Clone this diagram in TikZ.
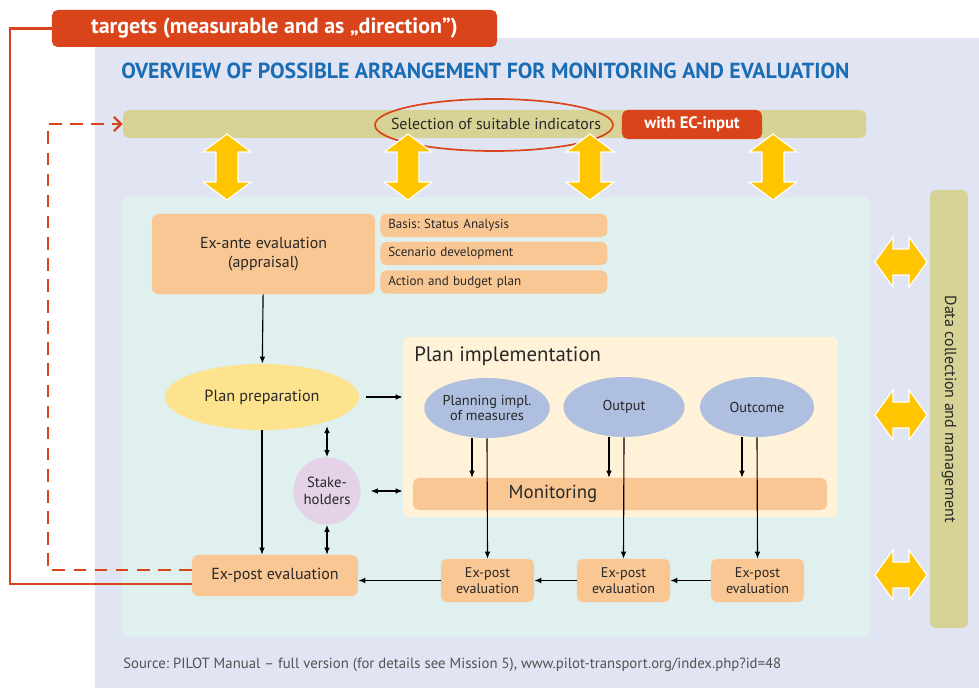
\documentclass[tikz,border=0pt]{standalone}
\usepackage{fontspec}
\setmainfont{PT Sans}
\frenchspacing
\usetikzlibrary{shapes.geometric,arrows.meta,positioning}

\definecolor{lavender}{RGB}{225,228,242}
\definecolor{mint}{RGB}{223,240,239}
\definecolor{khaki}{RGB}{215,210,149}
\definecolor{brick}{RGB}{217,68,26}
\definecolor{apricot}{RGB}{249,199,147}
\definecolor{cream}{RGB}{255,242,216}
\definecolor{bluegray}{RGB}{174,191,224}
\definecolor{butter}{RGB}{253,227,142}
\definecolor{lilac}{RGB}{227,210,232}
\definecolor{gold}{RGB}{255,197,0}
\definecolor{titleblue}{RGB}{26,109,180}
\definecolor{ink}{RGB}{40,40,40}

\begin{document}
\begin{tikzpicture}[x=0.025cm, y=-0.025cm,
  panel/.style={rounded corners=4pt, inner sep=0pt},
  box/.style={fill=apricot, rounded corners=4pt, text=ink, align=center, inner sep=0pt},
  redbox/.style={fill=brick, rounded corners=4pt, text=white, font=\bfseries, inner sep=0pt},
  blob/.style={ellipse, fill=bluegray, text=ink, align=center, inner sep=0pt, font=\fontsize{10.2}{11}\selectfont},
  flow/.style={-{Latex[length=5pt,width=4pt]}, line width=0.8pt},
  both/.style={{Latex[length=5pt,width=4pt]}-{Latex[length=5pt,width=4pt]}, line width=0.8pt},
  redline/.style={brick, line width=1.6pt}]
\useasboundingbox (0,0) rectangle (979,688);

  % Backgrounds
  \fill[white] (0,0) rectangle (979,688);
  \fill[lavender] (95,38) rectangle (979,688);
  \node[redbox, minimum width=11.125cm, minimum height=0.925cm, font=\bfseries\fontsize{15.6}{17}\selectfont] (targets) at (274.5,28.5) {targets (measurable and as „direction”)};
  \node[anchor=west, text=titleblue, font=\bfseries\fontsize{15.5}{17}\selectfont, inner sep=0pt] (title) at (121,71) {OVERVIEW OF POSSIBLE ARRANGEMENT FOR MONITORING AND EVALUATION};

  % Indicator bar
  \node[panel, fill=khaki, minimum width=18.575cm, minimum height=0.7cm] (bar) at (494.5,124) {};
  \node[text=ink, font=\fontsize{11.3}{13}\selectfont] (seltext) at (496,124) {Selection of suitable indicators};
  \node[ellipse, draw=brick, line width=1.2pt, minimum width=5.95cm, minimum height=1.3cm] (selring) at (494,125) {};
  \node[redbox, minimum width=3.5cm, minimum height=0.725cm, font=\bfseries\fontsize{11.8}{13}\selectfont] (ecinput) at (692,124.5) {with EC-input};

  % Main panel and data bar
  \node[panel, fill=mint, minimum width=18.7cm, minimum height=11cm] (main) at (496,417) {};
  \node[panel, fill=khaki, rotate=-90, minimum width=10.95cm, minimum height=0.95cm, text=ink, font=\fontsize{11.4}{13}\selectfont] (datacol) at (949,409) {Data collection and management};

  % Yellow double arrows
  \foreach \x in {227,408,590,773}
    \fill[gold, draw=white, line width=0.8pt] (\x,134) -- (\x+24,152) -- (\x+11,152) -- (\x+11,182) -- (\x+24,182) -- (\x,200)
      -- (\x-24,182) -- (\x-11,182) -- (\x-11,152) -- (\x-24,152) -- cycle;
  \foreach \y in {262,415,575}
    \fill[gold, draw=white, line width=0.8pt] (875,\y) -- (893,\y-25) -- (893,\y-13) -- (909,\y-13) -- (909,\y-25) -- (927,\y)
      -- (909,\y+25) -- (909,\y+13) -- (893,\y+13) -- (893,\y+25) -- cycle;

  % Ex-ante evaluation
  \node[box, minimum width=5.575cm, minimum height=2cm, font=\fontsize{11.3}{14}\selectfont] (exante) at (263.5,254) {Ex-ante evaluation\\(appraisal)};
  \node[box, anchor=west, align=left, text width=5.275cm, inner xsep=0.2cm, minimum height=0.575cm, font=\fontsize{9.3}{11}\selectfont] (basis) at (380,225.5) {Basis: Status Analysis};
  \node[box, anchor=west, align=left, text width=5.275cm, inner xsep=0.2cm, minimum height=0.575cm, font=\fontsize{9.3}{11}\selectfont] (scen) at (380,253.5) {Scenario development};
  \node[box, anchor=west, align=left, text width=5.275cm, inner xsep=0.2cm, minimum height=0.575cm, font=\fontsize{9.3}{11}\selectfont] (budget) at (380,282) {Action and budget plan};

  % Plan implementation
  \node[panel, fill=cream, minimum width=10.875cm, minimum height=4.5cm] (impl) at (620.5,427) {};
  \node[anchor=west, text=ink, inner sep=0pt, font=\fontsize{14.8}{16}\selectfont] (impltitle) at (414,356) {Plan implementation};
  \node[blob, minimum width=3cm, minimum height=1.5cm] (planimp) at (487,408) {Planning impl.\\of measures};
  \node[blob, minimum width=3.025cm, minimum height=1.5cm] (output) at (624,407) {Output};
  \node[blob, minimum width=2.85cm, minimum height=1.5cm] (outcome) at (757,407) {Outcome};
  \node[box, minimum width=10.35cm, minimum height=0.8cm] (mon) at (620,494) {};
  \node[text=ink, font=\fontsize{13.4}{15}\selectfont] (montext) at (553,494) {Monitoring};

  % Preparation and stakeholders
  \node[ellipse, fill=butter, text=ink, minimum width=4.85cm, minimum height=1.65cm, inner sep=0pt, font=\fontsize{11.5}{13}\selectfont] (prep) at (262,397) {Plan preparation};
  \node[circle, fill=lilac, text=ink, align=center, minimum size=1.68cm, inner sep=0pt, font=\fontsize{10.5}{12}\selectfont] (stake) at (327,491) {Stake-\\holders};

  % Ex-post evaluations
  \node[box, minimum width=4.15cm, minimum height=1.025cm, font=\fontsize{11.4}{13}\selectfont] (expost) at (275,575.5) {Ex-post evaluation};
  \foreach \n/\x in {ep1/487.5, ep2/623.5, ep3/757.5}
    \node[box, minimum width=2.325cm, minimum height=1.075cm, font=\fontsize{10}{11.5}\selectfont] (\n) at (\x,580.5) {Ex-post\\evaluation};

  % Connectors
  \draw[flow] (exante) -- (prep);
  \draw[flow, shorten <=5pt] (prep.east) -- (prep.east -| impl.west);
  \draw[both, shorten >=-3pt] (stake.north) -- (stake.north |- prep.south);
  \draw[both, shorten <=7pt] (stake.east) -- (stake.east -| impl.west);
  \draw[both] (stake.south) -- (stake.south |- expost.north);
  \draw[flow] (prep.south) -- (prep.south |- expost.north);
  \foreach \e/\p in {planimp/ep1, output/ep2, outcome/ep3} {
    \draw[flow] ([xshift=-0.375cm]\e.south) -- ([xshift=-0.375cm]\e.south |- mon.north);
    \draw[flow] (\e.south) -- (\p.north);
  }
  \draw[flow] (ep3) -- (ep2);
  \draw[flow] (ep2) -- (ep1);
  \draw[flow] (ep1.west) -- (ep1.west -| expost.east);

  % Red feedback lines
  \coordinate (solidx) at (10,300);
  \coordinate (dashx) at (48,300);
  \draw[redline] ([yshift=-0.21cm]expost.west) -| (solidx |- targets.west) -- (targets.west);
  \draw[redline, dash pattern=on 9pt off 6pt, -{Straight Barb[length=5pt,width=10pt]}] ([yshift=0.14cm]expost.west) -| (dashx |- bar.west) -- (bar.west);

  % Source
  \node[anchor=west, text=ink!80, inner sep=0pt, font=\fontsize{10.5}{12}\selectfont] (source) at (123,665) {Source: PILOT Manual – full version (for details see Mission 5), www.pilot-transport.org/index.php?id=48};
\end{tikzpicture}
\end{document}
